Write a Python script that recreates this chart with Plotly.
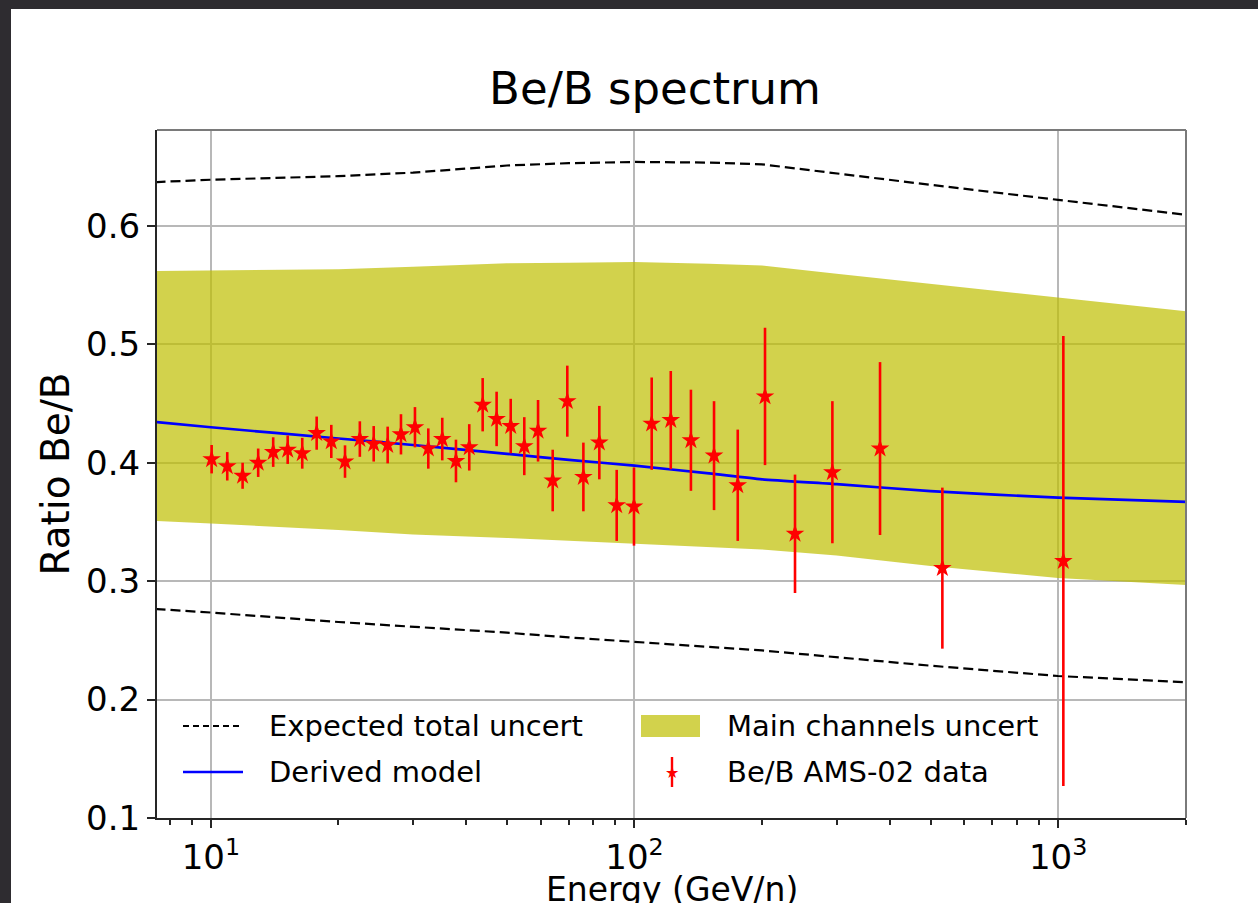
import math
import plotly.graph_objects as go

# ---- Be/B AMS-02 measurements (kinetic energy per nucleon, ratio, 1-sigma error)
energy = [10.04, 10.93, 11.88, 12.93, 14.03, 15.18, 16.43, 17.77, 19.24, 20.73,
          22.47, 24.23, 26.14, 28.10, 30.32, 32.60, 35.17, 37.89, 40.73, 43.81,
          47.26, 51.03, 54.93, 59.20, 64.11, 69.40, 75.74, 82.60, 90.78, 99.73,
          109.8, 121.8, 135.9, 154.1, 175.3, 203.3, 239.3, 293.2, 379.9, 533.1,
          1029.0]
ratio = [0.403, 0.397, 0.389, 0.400, 0.409, 0.411, 0.408, 0.425, 0.418, 0.401,
         0.420, 0.416, 0.415, 0.424, 0.430, 0.412, 0.420, 0.4015, 0.413, 0.449,
         0.437, 0.431, 0.414, 0.427, 0.385, 0.452, 0.388, 0.417, 0.364, 0.363,
         0.433, 0.436, 0.419, 0.406, 0.381, 0.456, 0.340, 0.392, 0.412, 0.311,
         0.317]
ratio_err = [0.012, 0.012, 0.011, 0.012, 0.0125, 0.012, 0.013, 0.014, 0.014, 0.0137,
             0.015, 0.015, 0.0155, 0.017, 0.017, 0.017, 0.018, 0.018, 0.0196, 0.0225,
             0.023, 0.023, 0.0245, 0.026, 0.026, 0.030, 0.029, 0.031, 0.030, 0.033,
             0.039, 0.0415, 0.0427, 0.046, 0.047, 0.058, 0.050, 0.060, 0.073, 0.068,
             0.19]

# ---- model curve and its uncertainty envelopes
model_energy = [7.4, 10, 20, 30, 50, 70, 100, 150, 200, 300, 500, 1000, 2050]
model_ratio = [0.4345, 0.430, 0.4205, 0.415, 0.4075, 0.4025, 0.3975, 0.391, 0.386,
               0.382, 0.376, 0.3705, 0.3668]
main_upper = [0.562, 0.5625, 0.5635, 0.5655, 0.5685, 0.569, 0.5695, 0.568, 0.5665,
              0.5596, 0.551, 0.5397, 0.5275]
main_lower = [0.3508, 0.3487, 0.3432, 0.3394, 0.3365, 0.334, 0.3314, 0.3289, 0.3268,
              0.3217, 0.3128, 0.3027, 0.2966]
total_upper = [0.637, 0.639, 0.642, 0.645, 0.651, 0.653, 0.654, 0.6535, 0.652,
               0.6441, 0.6347, 0.622, 0.609]
total_lower = [0.2765, 0.2735, 0.2655, 0.2615, 0.2565, 0.2525, 0.2485, 0.2445, 0.2415,
               0.2358, 0.2286, 0.2199, 0.2145]

x_ticks = [10, 100, 1000]
x_tick_text = ["10<sup>1</sup>", "10<sup>2</sup>", "10<sup>3</sup>"]
y_ticks = [0.1, 0.2, 0.3, 0.4, 0.5, 0.6]
y_tick_text = ["0.1", "0.2", "0.3", "0.4", "0.5", "0.6"]

legend_labels = ["Expected total uncert", "Derived model",
                 "Main channels uncert", "Be/B AMS-02 data"]
x_title = "Energy (GeV/n)"

FONT = "DejaVu Sans"
BAND = "rgba(191,191,0,0.7)"
BACKDROP = "#2e2c30"
W, H = 1258, 903
L, R, T, B = 157, 72, 130, 85
pw, ph = W - L - R, H - T - B


def px(xpix):
    return (xpix - L) / pw


def py(ypix):
    return (H - B - ypix) / ph


fig = go.Figure()

# main-channel band
fig.add_trace(go.Scatter(x=model_energy, y=main_lower, mode="lines",
                         line=dict(width=0), showlegend=False, hoverinfo="skip"))
fig.add_trace(go.Scatter(x=model_energy, y=main_upper, mode="lines",
                         line=dict(width=0), fill="tonexty", fillcolor=BAND,
                         showlegend=False, hoverinfo="skip"))

# expected total uncertainty
for env in (total_upper, total_lower):
    fig.add_trace(go.Scatter(x=model_energy, y=env, mode="lines",
                             line=dict(color="black", width=2.2, dash="10px,5px"),
                             showlegend=False))

# derived model
fig.add_trace(go.Scatter(x=model_energy, y=model_ratio, mode="lines",
                         line=dict(color="#0000ff", width=2.7, shape="spline",
                                   smoothing=0.6),
                         showlegend=False))

# data
fig.add_trace(go.Scatter(x=energy, y=ratio, mode="markers",
                         marker=dict(symbol="star", size=14, color="#ff0000",
                                     line=dict(width=0)),
                         error_y=dict(type="data", array=ratio_err, color="#ff0000",
                                      thickness=2.6, width=0),
                         showlegend=False))

shapes = [
    # dark backdrop strips along the top and left edges of the page
    dict(type="rect", xref="paper", yref="paper",
         x0=px(-60), x1=px(W + 60), y0=py(9), y1=py(-60),
         fillcolor=BACKDROP, line=dict(width=0), layer="below"),
    dict(type="rect", xref="paper", yref="paper",
         x0=px(-60), x1=px(11), y0=py(H + 60), y1=py(-60),
         fillcolor=BACKDROP, line=dict(width=0), layer="below"),
    # top and right frame
    dict(type="line", xref="paper", yref="paper", x0=0, x1=1, y0=1, y1=1,
         line=dict(color="#7a7a7a", width=2)),
    dict(type="line", xref="paper", yref="paper", x0=1, x1=1, y0=0, y1=1,
         line=dict(color="#7a7a7a", width=2)),
    # legend keys
    dict(type="line", xref="paper", yref="paper", x0=px(183), x1=px(243),
         y0=py(726), y1=py(726), line=dict(color="black", width=2.2, dash="6px,4px")),
    dict(type="line", xref="paper", yref="paper", x0=px(183), x1=px(243),
         y0=py(772), y1=py(772), line=dict(color="#0000ff", width=2.7)),
    dict(type="rect", xref="paper", yref="paper", x0=px(641), x1=px(700),
         y0=py(737), y1=py(715), fillcolor=BAND, line=dict(width=0)),
    dict(type="line", xref="paper", yref="paper", x0=px(672), x1=px(672),
         y0=py(787), y1=py(757), line=dict(color="#ff0000", width=2.4)),
]

annotations = [
    dict(x=px(267), y=py(726), text=legend_labels[0]),
    dict(x=px(267), y=py(772), text=legend_labels[1]),
    dict(x=px(725), y=py(726), text=legend_labels[2]),
    dict(x=px(725), y=py(772), text=legend_labels[3]),
]
for a in annotations:
    a.update(xref="paper", yref="paper", xanchor="left", yanchor="middle",
             showarrow=False, font=dict(family=FONT, size=29, color="black"))
annotations.append(dict(x=px(672), y=py(772), xref="paper", yref="paper",
                        text="★", showarrow=False, xanchor="center", yanchor="middle",
                        font=dict(family=FONT, size=16, color="#ff0000")))
# x-axis title, sitting at the very bottom edge of the page
annotations.append(dict(x=0.5, y=py(889), xref="paper", yref="paper",
                        text=x_title, showarrow=False, xanchor="center",
                        yanchor="middle",
                        font=dict(family=FONT, size=33, color="black")))

minor_vals = [m * 10 ** d for d in range(0, 4) for m in range(2, 10)]

fig.update_layout(
    template="none",
    width=W, height=H,
    margin=dict(l=L, r=R, t=T, b=B, pad=0),
    paper_bgcolor="white",
    plot_bgcolor="rgba(0,0,0,0)",
    title=dict(text="Be/B spectrum", x=px(655), xref="paper", xanchor="center",
               y=1 - 88 / H, yanchor="middle",
               font=dict(family=FONT, size=45, color="black")),
    font=dict(family=FONT, color="black"),
    showlegend=False,
    shapes=shapes,
    annotations=annotations,
    xaxis=dict(type="log", range=[math.log10(7.46), 3.302], automargin=False,
               tickvals=x_ticks, ticktext=x_tick_text,
               tickfont=dict(family=FONT, size=34, color="black"),
               ticks="outside", ticklen=8, tickwidth=2, tickcolor="#262626",
               showgrid=True, gridcolor="#b8b8b8", gridwidth=1.6,
               showline=True, linecolor="#262626", linewidth=2,
               zeroline=False,
               minor=dict(tickvals=minor_vals, ticks="outside", ticklen=5,
                          tickwidth=1.5, tickcolor="#262626", showgrid=False)),
    yaxis=dict(range=[0.1, 0.681], automargin=False,
               tickvals=y_ticks, ticktext=y_tick_text,
               tickfont=dict(family=FONT, size=34, color="black"),
               ticks="outside", ticklen=8, tickwidth=2, tickcolor="#262626",
               showgrid=True, gridcolor="#b8b8b8", gridwidth=1.6,
               showline=True, linecolor="#262626", linewidth=2,
               zeroline=False,
               title=dict(text="Ratio Be/B", standoff=4,
                          font=dict(family=FONT, size=39, color="black"))),
)

fig.write_html("out.html")
